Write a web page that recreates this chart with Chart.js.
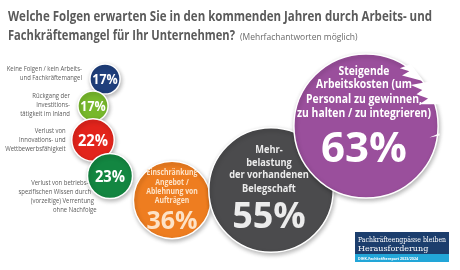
<!DOCTYPE html>
<html>
<head>
<meta charset="utf-8">
<script src="https://cdn.jsdelivr.net/npm/chart.js@4.4.0/dist/chart.umd.min.js"></script>
<style>
    html, body { margin: 0; padding: 0; background: #fff; }
    canvas { display: block; }
</style>
</head>
<body>
<canvas id="chartFolgen" width="460" height="270"></canvas>
<script>
// Umfragewerte (Mehrfachantworten, in %)
const categories = [
    ["Keine Folgen / kein Arbeits-", "und Fachkräftemangel"],
    ["Rückgang der", "Investitions-", "tätigkeit im Inland"],
    ["Verlust von", "Innovations- und", "Wettbewerbsfähigkeit"],
    ["Verlust von betriebs-", "spezifischen Wissen durch", "(vorzeitige) Verrentung", "ohne Nachfolge"],
    ["Einschränkung", "Angebot /", "Ablehnung von", "Aufträgen"],
    ["Mehr-", "belastung", "der vorhandenen", "Belegschaft"],
    ["Steigende", "Arbeitskosten (um", "Personal zu gewinnen,", "zu halten / zu integrieren)"]
]
const values = [17, 17, 22, 23, 36, 55, 63]
const valueLabels = ["17%", "17%", "22%", "23%", "36%", "55%", "63%"]

// Lage der Blasen im Layout-Raster (Achsen 0..460 / 0..270)
const posX = [105, 93, 93, 110, 172, 271, 366]
const posY = [79, 106, 140, 176, 200, 190, 126]

const colors = ['#1f3f7c', '#77b82c', '#e2241c', '#138641', '#ee7d20', '#4b4b4d', '#9a4f9c']

// Beschriftung: kleine Blasen links daneben, große innen
const outsideGap = [8, 8, 6, -1]
const outsideDy = [-5, -1, 0, 21]
const outsideSlant = [0, 0, 0, 2.7]
const insideStyle = [
    null, null, null, null,
    { font: 8, color: '#fde2c6', line: [-27, -17, -8, 1], squeeze: 0.86, value: 25, valueDy: 22, dx: 0 },
    { font: 10.5, color: '#ececec', line: [-40, -27, -15, -1], squeeze: 0.88, value: 36, valueDy: 28, dx: -2 },
    { font: 11.5, color: '#ffffff', line: [-54, -41, -26, -12], squeeze: 0.9, value: 42, valueDy: 24, dx: -2 }
]
const smallValueFont = [13.5, 13.5, 16, 16]

const bubbleData = values.map((v, i) => ({ x: posX[i], y: posY[i], r: v * 1.24 - 6 }))

const FONT = '"Open Sans", "DejaVu Sans", sans-serif'

function squeezedText(ctx, txt, x, y, f) {
    ctx.fillText(txt, x, y, ctx.measureText(txt).width * f)
}

const infographic = {
    id: 'infographic',
    beforeDraw(chart) {
        const ctx = chart.ctx
        ctx.save()
        ctx.fillStyle = '#ffffff'
        ctx.fillRect(0, 0, chart.width, chart.height)
        ctx.restore()
    },
    beforeDatasetsDraw(chart) {
        const ctx = chart.ctx
        ctx.save()
        ctx.shadowColor = 'rgba(0,0,0,0.28)'
        ctx.shadowBlur = 4
        ctx.shadowOffsetX = 1
        ctx.shadowOffsetY = 2
    },
    afterDatasetsDraw(chart) {
        chart.ctx.restore()
    },
    afterDraw(chart) {
        const ctx = chart.ctx
        const meta = chart.getDatasetMeta(0)
        ctx.save()

        // Titel
        ctx.fillStyle = '#5a5a5a'
        ctx.textAlign = 'left'
        ctx.textBaseline = 'alphabetic'
        ctx.font = 'bold 13.5px ' + FONT
        ctx.fillText('Welche Folgen erwarten Sie in den kommenden Jahren durch Arbeits- und', 8, 21, 424)
        ctx.fillText('Fachkräftemangel für Ihr Unternehmen?', 8, 40, 227)
        ctx.fillStyle = '#6a6a6a'
        ctx.font = '8.5px ' + FONT
        ctx.fillText('(Mehrfachantworten möglich)', 240, 40, 122)

        // Risse am rechten Rand der lila Blase
        const big = meta.data[6]
        const R = big.options.radius
        ctx.fillStyle = '#ffffff'
        const tears = [
            [[0.62, -0.86], [0.47, -0.80], [0.60, -0.76], [0.50, -0.70], [0.80, -0.62]],
            [[0.90, -0.62], [0.62, -0.57], [0.78, -0.50], [0.70, -0.44], [0.86, -0.38], [0.74, -0.30], [1.05, -0.30]],
            [[1.02, 0.10], [0.88, 0.16], [1.02, 0.13]]
        ]
        tears.forEach(pts => {
            ctx.beginPath()
            pts.forEach((p, k) => {
                const px = big.x + p[0] * R, py = big.y + p[1] * R
                k ? ctx.lineTo(px, py) : ctx.moveTo(px, py)
            })
            ctx.closePath()
            ctx.fill()
        })

        // Blasentexte
        meta.data.forEach((pt, i) => {
            const r = pt.options.radius
            const st = insideStyle[i]
            ctx.textBaseline = 'middle'
            if (!st) {
                ctx.fillStyle = '#ffffff'
                ctx.textAlign = 'center'
                ctx.font = 'bold ' + smallValueFont[i] + 'px ' + FONT
                squeezedText(ctx, valueLabels[i], pt.x, pt.y + 1, 0.92)

                ctx.fillStyle = '#5c5c5c'
                ctx.textAlign = 'right'
                ctx.font = '6.6px ' + FONT
                const lines = categories[i]
                const top = pt.y + outsideDy[i] - (lines.length - 1) * 9 / 2
                lines.forEach((ln, k) => {
                    const xr = pt.x - r - outsideGap[i] + k * outsideSlant[i]
                    squeezedText(ctx, ln, xr, top + k * 9, 0.9)
                })
            } else {
                ctx.fillStyle = st.color
                ctx.textAlign = 'center'
                ctx.font = 'bold ' + st.font + 'px ' + FONT
                categories[i].forEach((ln, k) => {
                    squeezedText(ctx, ln, pt.x + st.dx, pt.y + st.line[k], st.squeeze)
                })
                ctx.font = 'bold ' + st.value + 'px ' + FONT
                ctx.fillText(valueLabels[i], pt.x + st.dx, pt.y + st.valueDy)
            }
        })

        // Quellenhinweis unten rechts
        ctx.fillStyle = '#1c3e6d'
        ctx.fillRect(355, 232, 94, 22)
        ctx.fillStyle = '#22a6d8'
        ctx.fillRect(355, 254, 94, 8)
        ctx.fillStyle = '#ffffff'
        ctx.textAlign = 'left'
        ctx.textBaseline = 'alphabetic'
        ctx.font = '8px "DejaVu Serif", "Liberation Serif", serif'
        ctx.fillText('Fachkräfteengpässe bleiben', 358, 242, 88)
        ctx.fillText('Herausforderung', 358, 251, 88)
        ctx.font = 'bold 4px ' + FONT
        ctx.fillText('DIHK-Fachkräftereport 2023/2024', 358, 259.5, 60)

        ctx.restore()
    }
}

const ctx = document.getElementById('chartFolgen').getContext('2d')
new Chart(ctx, {
    type: 'bubble',
    data: {
        labels: categories.map(c => c.join(' ')),
        datasets: [{
            data: bubbleData,
            backgroundColor: colors,
            borderColor: '#ffffff',
            borderWidth: 1.5,
            clip: false
        }]
    },
    options: {
        responsive: false,
        animation: false,
        layout: { padding: 0, autoPadding: false },
        events: [],
        scales: {
            x: { type: 'linear', min: 0, max: 460, display: false },
            y: { type: 'linear', min: 0, max: 270, reverse: true, display: false }
        },
        plugins: {
            legend: { display: false },
            tooltip: { enabled: false }
        }
    },
    plugins: [infographic]
})
</script>
</body>
</html>
